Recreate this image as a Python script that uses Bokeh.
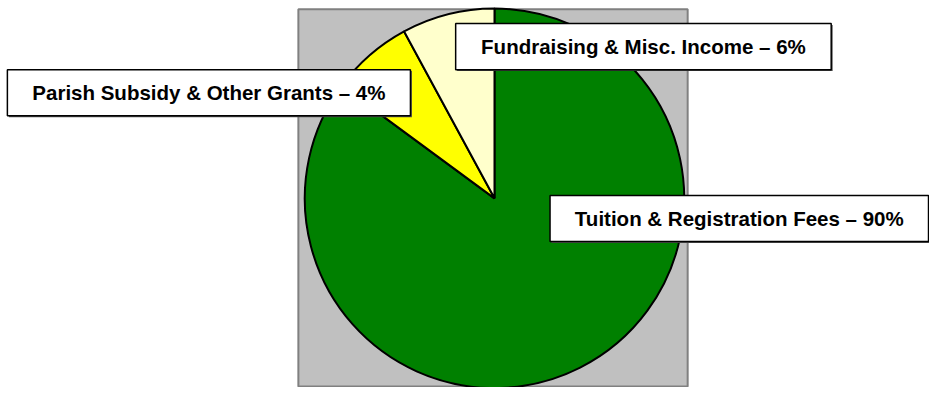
import numpy as np
from bokeh.plotting import figure
from bokeh.models import Range1d, ColumnDataSource
from bokeh.core.properties import value
from bokeh.embed import file_html
from bokeh.resources import INLINE

# ---- data ----
categories = ["Tuition & Registration Fees",
              "Parish Subsidy & Other Grants",
              "Fundraising & Misc. Income"]
shares = [85.1, 7.0, 7.9]            # slice sizes as drawn
label_pct = ["90%", "4%", "6%"]      # percentages printed in the labels
colors = ["#008000", "#FFFF00", "#FFFFCC"]

# ---- layout (reference-image pixel coordinates, 945 x 403) ----
W, H = 929, 387
REF_W, REF_H = 945, 403
def Y(py):
    return REF_H - py

cx, cy, r = 502.5, 206, 193
plot_area = dict(left=303, right=699, top=9, bottom=402)
label_boxes = [  # left, right, top, bottom
    (559, 944, 203, 251),
    (7, 417, 72, 120),
    (463, 845, 24, 72),
]

p = figure(width=W, height=H, output_backend="svg", toolbar_location=None,
           x_range=Range1d(0, REF_W), y_range=Range1d(0, REF_H),
           x_axis_location=None, y_axis_location=None, min_border=0)
p.grid.visible = False
p.outline_line_color = None
p.background_fill_color = "white"
p.border_fill_color = "white"

# gray plot area
p.quad(left=[plot_area["left"]], right=[plot_area["right"]],
       top=[Y(plot_area["top"])], bottom=[Y(plot_area["bottom"])],
       fill_color="#C0C0C0", line_color="#808080", line_width=2)

# pie wedges, starting at 12 o'clock going clockwise
fr = np.array(shares) / np.sum(shares)
cum_after = np.cumsum(fr)
cum_before = cum_after - fr
start = np.pi / 2 - cum_after * 2 * np.pi
end = np.pi / 2 - cum_before * 2 * np.pi
src = ColumnDataSource(dict(x=[cx] * len(shares), y=[Y(cy)] * len(shares),
                            start=start, end=end, color=colors))
p.wedge(x="x", y="y", radius=r,
        start_angle="start", end_angle="end",
        fill_color="color", line_color="black", line_width=2, source=src)

# labels
texts = [f"{c} \u2013 {pc}" for c, pc in zip(categories, label_pct)]
L = [b[0] for b in label_boxes]
R = [b[1] for b in label_boxes]
T = [Y(b[2]) for b in label_boxes]
B = [Y(b[3]) for b in label_boxes]
p.quad(left=[l + 1.5 for l in L], right=[x + 1.5 for x in R],
       top=[t - 1.5 for t in T], bottom=[b - 1.5 for b in B],
       fill_color="#505050", line_color=None)
p.quad(left=L, right=R, top=T, bottom=B,
       fill_color="white", line_color="black", line_width=1.5)
p.text(x=[(l + x) / 2 for l, x in zip(L, R)], y=[(t + b) / 2 for t, b in zip(T, B)],
       text=texts, text_align="center", text_baseline="middle",
       text_font=value("Liberation Sans"), text_font_style="bold",
       text_font_size="20.5px", text_color="black")

open("out.html", "w").write(file_html(p, INLINE))
